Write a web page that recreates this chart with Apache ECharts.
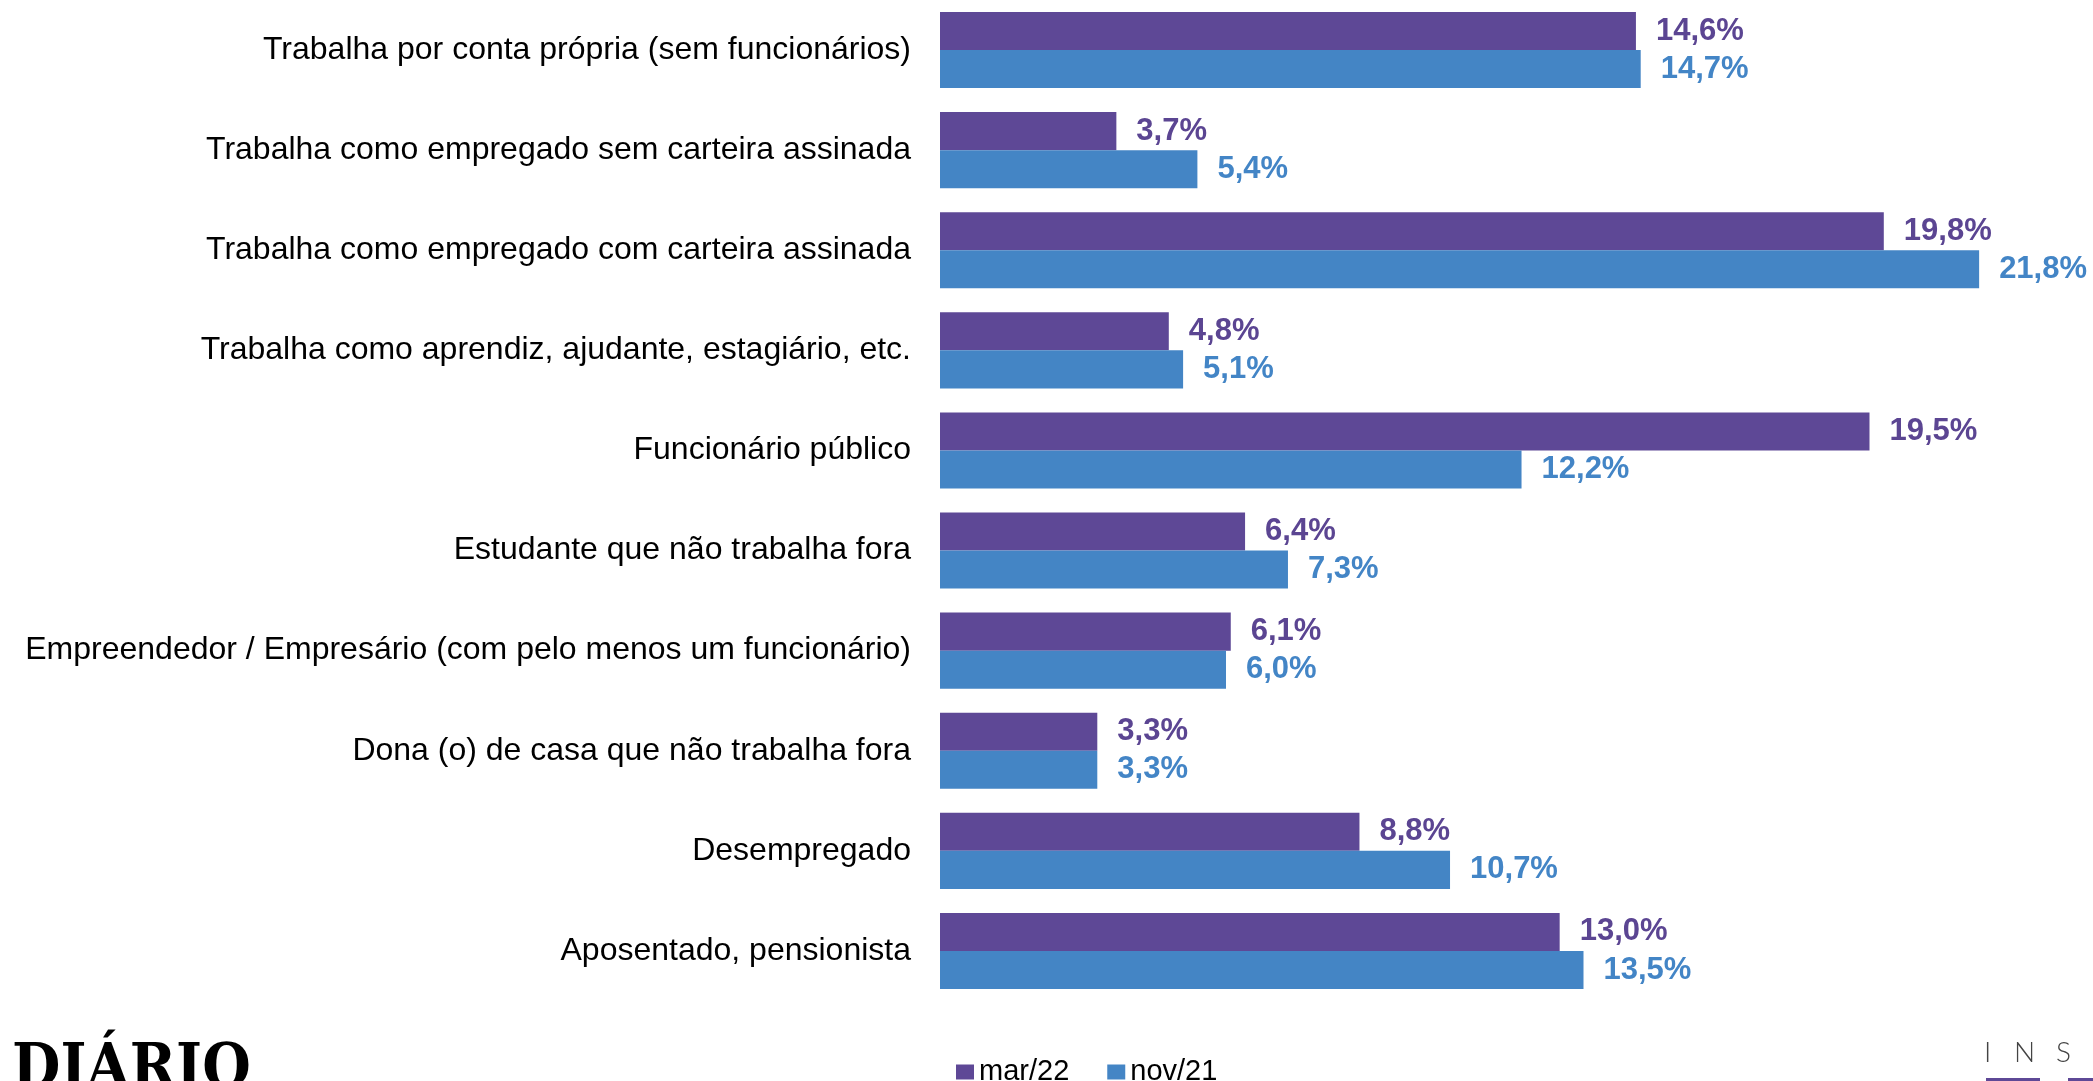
<!DOCTYPE html>
<html>
<head>
<meta charset="utf-8">
<script src="https://cdn.jsdelivr.net/npm/echarts@6/dist/echarts.min.js"></script>
<style>html,body{margin:0;padding:0;background:#fff;}#c{width:2093px;height:1081px;}</style>
</head>
<body>
<div id="c"></div>
<script>
const categories = [
  'Trabalha por conta própria (sem funcionários)',
  'Trabalha como empregado sem carteira assinada',
  'Trabalha como empregado com carteira assinada',
  'Trabalha como aprendiz, ajudante, estagiário, etc.',
  'Funcionário público',
  'Estudante que não trabalha fora',
  'Empreendedor / Empresário (com pelo menos um funcionário)',
  'Dona (o) de casa que não trabalha fora',
  'Desempregado',
  'Aposentado, pensionista'
];
const seriesNames = ['mar/22', 'nov/21'];
const mar22 = [14.6, 3.7, 19.8, 4.8, 19.5, 6.4, 6.1, 3.3, 8.8, 13.0];
const nov21 = [14.7, 5.4, 21.8, 5.1, 12.2, 7.3, 6.0, 3.3, 10.7, 13.5];

const purple = '#5E4896';
const blue = '#4485C5';
const fmt = p => p.value.toFixed(1).replace('.', ',') + '%';

const chart = echarts.init(document.getElementById('c'));
chart.setOption({
  animation: false,
  backgroundColor: '#fff',
  grid: { left: 940, right: 9, top: 0, bottom: 80, containLabel: false },
  xAxis: { type: 'value', min: 0, max: 24, show: false },
  yAxis: {
    type: 'category', data: categories, inverse: true,
    axisLine: { show: false }, axisTick: { show: false },
    axisLabel: { margin: 29, color: '#000', fontSize: 32, fontFamily: 'Liberation Sans' }
  },
  legend: {
    left: 951, top: 1052, itemWidth: 18, itemHeight: 15, itemGap: 38,
    icon: 'rect',
    textStyle: { color: '#000', fontSize: 29, lineHeight: 30, fontFamily: 'Liberation Sans', padding: 0 },
    data: seriesNames
  },
  series: [
    {
      name: seriesNames[0], type: 'bar', data: mar22, barGap: '0%', barCategoryGap: '24%',
      itemStyle: { color: purple },
      label: { show: true, position: 'right', distance: 20, formatter: fmt, color: '#5B4592',
        fontSize: 31, fontWeight: 'bold', fontFamily: 'Liberation Sans' }
    },
    {
      name: seriesNames[1], type: 'bar', data: nov21, barGap: '0%', barCategoryGap: '24%',
      itemStyle: { color: blue },
      label: { show: true, position: 'right', distance: 20, formatter: fmt, color: '#4385C6',
        fontSize: 31, fontWeight: 'bold', fontFamily: 'Liberation Sans' }
    }
  ],
  graphic: [
    { type: 'text', left: 12, top: 1040,
      style: { text: 'DIÁRIO', fill: '#000', font: 'bold 62px "DejaVu Serif Condensed", "DejaVu Serif", serif' } },
    { type: 'text', left: 1984, top: 1039,
      style: { text: 'I', fill: '#444', font: '300 28px Lato, "Liberation Sans", sans-serif' } },
    { type: 'text', left: 2014, top: 1039,
      style: { text: 'N', fill: '#444', font: '300 28px Lato, "Liberation Sans", sans-serif' } },
    { type: 'text', left: 2056, top: 1039,
      style: { text: 'S', fill: '#444', font: '300 28px Lato, "Liberation Sans", sans-serif' } },
    { type: 'rect', shape: { x: 1986, y: 1078, width: 54, height: 4 }, style: { fill: purple } },
    { type: 'rect', shape: { x: 2068, y: 1078, width: 25, height: 4 }, style: { fill: purple } }
  ]
});
</script>
</body>
</html>
